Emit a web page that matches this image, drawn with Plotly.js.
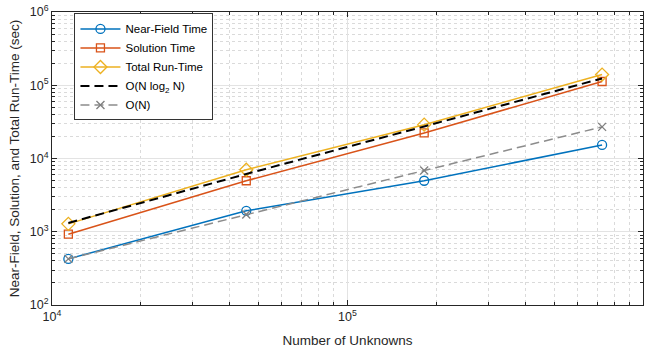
<!DOCTYPE html>
<html><head><meta charset="utf-8">
<script src="https://cdn.plot.ly/plotly-3.0.1.min.js"></script>
<style>html,body{margin:0;padding:0;background:#fff}#c{width:651px;height:352px}</style>
</head><body><div id="c"></div>
<script>
const unknowns = [11360, 45440, 181760, 727040];
const nearField = [426, 1930, 4970, 15300];
const solution = [927, 4970, 22340, 112500];
const totalRun = [1282, 7030, 28970, 139900];
const nlogn = [1320, 6150, 27400, 124000];
const orderN = [426, 1720, 6850, 27000];
const xTickVals = [1e4, 1e5, 1e6];
const xTickText = ['10<sup>4</sup>', '10<sup>5</sup>', '10<sup>6</sup>'];
const yTickVals = [1e2, 1e3, 1e4, 1e5, 1e6];
const yTickText = ['10<sup>2</sup>', '10<sup>3</sup>', '10<sup>4</sup>', '10<sup>5</sup>', '10<sup>6</sup>'];

function minorVals(lo, hi) {
  const v = [];
  for (let e = lo; e < hi; e++) for (let d = 2; d <= 9; d++) v.push(d * Math.pow(10, e));
  return v;
}

const F = '"Liberation Sans", Arial, sans-serif';
const traces = [
  {x: unknowns, y: nearField, name: 'Near-Field Time', mode: 'lines+markers',
   line: {color: '#0072BD', width: 1.5}, marker: {symbol: 'circle-open', size: 9, color: '#0072BD', line: {width: 1.3}}},
  {x: unknowns, y: solution, name: 'Solution Time', mode: 'lines+markers',
   line: {color: '#D95319', width: 1.5}, marker: {symbol: 'square-open', size: 8, color: '#D95319', line: {width: 1.3}}},
  {x: unknowns, y: totalRun, name: 'Total Run-Time', mode: 'lines+markers',
   line: {color: '#EDB120', width: 1.5}, marker: {symbol: 'diamond-open', size: 10, color: '#EDB120', line: {width: 1.3}}},
  {x: unknowns, y: nlogn, name: 'O(N log<sub>2</sub> N)', mode: 'lines',
   line: {color: '#000000', width: 2, dash: '9px,5px'}},
  {x: unknowns, y: orderN, name: 'O(N)', mode: 'lines+markers',
   line: {color: '#8c8c8c', width: 1.5, dash: '9px,5px'}, marker: {symbol: 'x-thin-open', size: 8, color: '#7f7f7f', line: {width: 1.3, color: '#7f7f7f'}}}
];
function axis(lo, hi, tv, tt, title) {
  return {
    type: 'log', range: [lo, hi], tickvals: tv, ticktext: tt,
    showline: true, linecolor: '#262626', linewidth: 1, mirror: 'allticks',
    ticks: 'inside', ticklen: 5, tickcolor: '#262626', showgrid: true, gridcolor: '#e3e3e3', gridwidth: 1,
    zeroline: false, tickfont: {family: F, size: 12.5, color: '#262626'},
    minor: {tickmode: 'array', tickvals: minorVals(lo, hi), ticks: 'inside', ticklen: 3, tickcolor: '#262626',
      showgrid: true, gridcolor: '#dadada', griddash: 'dot', gridwidth: 1},
    title: {text: title, font: {family: F, size: 13.5, color: '#262626'}}
  };
}
const layout = {
  width: 651, height: 352, paper_bgcolor: '#ffffff', plot_bgcolor: '#ffffff',
  margin: {l: 52, r: 8, t: 12, b: 47},
  showlegend: true,
  legend: {x: 0.038, y: 0.995, xanchor: 'left', yanchor: 'top', bgcolor: '#ffffff', bordercolor: '#333333', borderwidth: 1,
    font: {family: F, size: 11.5, color: '#000'}, tracegroupgap: 0, itemwidth: 40},
  xaxis: axis(4, 6, xTickVals, xTickText, 'Number of Unknowns'),
  yaxis: axis(2, 6, yTickVals, yTickText, 'Near-Field, Solution, and Total Run-Time (sec)')
};
layout.xaxis.title.standoff = 12;
layout.yaxis.title.standoff = 6;
Plotly.newPlot('c', traces, layout, {displayModeBar: false, staticPlot: true});
</script>
</body></html>
